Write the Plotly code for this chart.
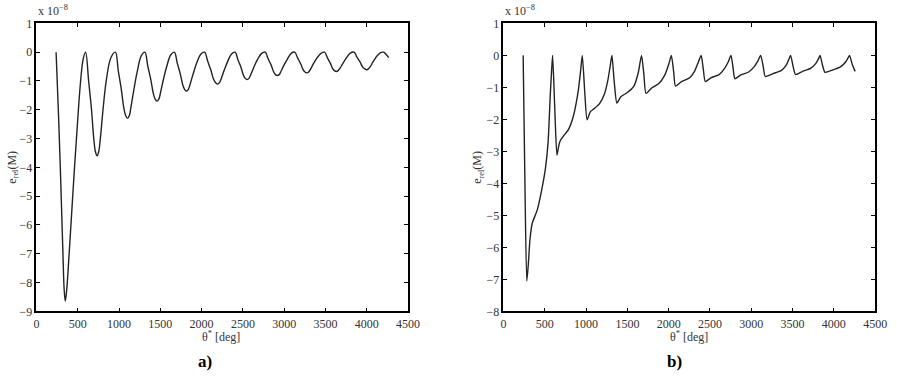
import plotly.graph_objects as go

# ---- data (theta* in deg, e_rel in units of 1e-8) ----
theta_a = [238, 265, 289, 321, 335, 349, 365, 396, 461, 508, 535, 565, 595,
           632, 667, 694, 714, 734, 754, 774, 806, 845, 900, 956,
           991, 1028, 1056, 1080, 1103, 1125, 1145, 1180, 1222, 1270, 1313,
           1348, 1385, 1413, 1437, 1460, 1482, 1502, 1537, 1579, 1627, 1670,
           1705, 1742, 1770, 1794, 1817, 1840, 1860, 1897, 1940, 1990, 2036,
           2073, 2112, 2142, 2170, 2194, 2216, 2237, 2274, 2317, 2362, 2405,
           2440, 2477, 2505, 2528, 2551, 2573, 2594, 2631, 2674, 2724, 2770,
           2805, 2842, 2870, 2894, 2917, 2939, 2960, 2997, 3040, 3085, 3127,
           3162, 3199, 3227, 3251, 3274, 3296, 3317, 3354, 3397, 3445, 3488,
           3522, 3558, 3585, 3608, 3631, 3653, 3675, 3712, 3755, 3800, 3845,
           3880, 3918, 3948, 3975, 4000, 4020, 4040, 4075, 4112, 4158, 4202,
           4235, 4265]
err_a = [0, -2.0, -4.0, -7.0, -8.2, -8.64, -8.3, -7.0, -4.0, -2.0, -1.0, -0.25, 0,
         -1.0, -2.0, -3.0, -3.45, -3.6, -3.45, -3.0, -2.0, -1.0, -0.2, 0,
         -0.65, -1.3, -1.9, -2.2, -2.3, -2.2, -1.9, -1.3, -0.65, -0.12, 0,
         -0.48, -0.95, -1.41, -1.63, -1.7, -1.63, -1.41, -0.95, -0.48, -0.09, 0,
         -0.38, -0.76, -1.12, -1.29, -1.35, -1.29, -1.12, -0.76, -0.38, -0.07, 0,
         -0.31, -0.62, -0.92, -1.06, -1.11, -1.06, -0.92, -0.62, -0.31, -0.06, 0,
         -0.27, -0.53, -0.79, -0.91, -0.95, -0.91, -0.79, -0.53, -0.27, -0.05, 0,
         -0.23, -0.45, -0.67, -0.78, -0.81, -0.78, -0.67, -0.45, -0.23, -0.04, 0,
         -0.20, -0.40, -0.60, -0.69, -0.72, -0.69, -0.60, -0.40, -0.20, -0.04, 0,
         -0.19, -0.38, -0.56, -0.64, -0.67, -0.64, -0.56, -0.38, -0.19, -0.03, 0,
         -0.17, -0.34, -0.51, -0.58, -0.61, -0.58, -0.51, -0.34, -0.17, -0.03, 0,
         -0.08, -0.19]

theta_b = [238, 258, 282, 300, 321, 349, 409, 468, 508, 540, 567, 582, 595,
           620, 647, 667, 687, 726, 786, 845, 905, 935, 954,
           985, 1012, 1052, 1100, 1163, 1222, 1262, 1294, 1313,
           1340, 1373, 1421, 1500, 1579, 1631, 1671,
           1700, 1726, 1798, 1877, 1956, 2004, 2032,
           2060, 2083, 2155, 2254, 2313, 2361, 2393,
           2420, 2444, 2512, 2611, 2679, 2722, 2754,
           2780, 2802, 2869, 2968, 3036, 3079, 3113,
           3145, 3170, 3266, 3365, 3425, 3455, 3476,
           3505, 3536, 3623, 3722, 3782, 3815, 3833,
           3862, 3893, 3980, 4079, 4147, 4175, 4190,
           4225, 4258]
err_b = [0, -3.7, -7.05, -6.55, -5.74, -5.24, -4.83, -4.13, -3.53, -2.72, -1.21, -0.5, 0,
         -1.6, -3.12, -2.85, -2.67, -2.52, -2.32, -1.91, -1.11, -0.45, 0,
         -1.2, -2.01, -1.76, -1.66, -1.51, -1.21, -0.8, -0.3, 0,
         -0.8, -1.49, -1.29, -1.16, -0.96, -0.55, 0,
         -0.6, -1.19, -1.01, -0.89, -0.6, -0.25, 0,
         -0.5, -0.96, -0.82, -0.70, -0.50, -0.2, 0,
         -0.45, -0.82, -0.70, -0.60, -0.40, -0.2, 0,
         -0.4, -0.73, -0.62, -0.52, -0.35, -0.18, 0,
         -0.35, -0.66, -0.57, -0.47, -0.3, -0.12, 0,
         -0.33, -0.60, -0.50, -0.40, -0.25, -0.1, 0,
         -0.3, -0.53, -0.46, -0.36, -0.19, -0.06, 0,
         -0.3, -0.5]

x_ticks = [0, 500, 1000, 1500, 2000, 2500, 3000, 3500, 4000, 4500]
y_ticks_a = [1, 0, -1, -2, -3, -4, -5, -6, -7, -8, -9]
y_ticks_b = [1, 0, -1, -2, -3, -4, -5, -6, -7, -8]
panel_labels = ["a)", "b)"]

W, H = 897, 380
FONT = "'Liberation Serif', 'Times New Roman', 'DejaVu Serif', serif"


def px(x):
    return x / W


def py(y):
    return 1 - y / H


fig = go.Figure()
fig.add_trace(go.Scatter(x=theta_a, y=err_a, mode="lines",
                         line=dict(color="#222", width=1.4, shape="spline", smoothing=1.0),
                         xaxis="x", yaxis="y", showlegend=False))
fig.add_trace(go.Scatter(x=theta_b, y=err_b, mode="lines",
                         line=dict(color="#222", width=1.4, shape="spline", smoothing=0.6),
                         xaxis="x2", yaxis="y2", showlegend=False))

axis_common = dict(showline=True, linecolor="black", linewidth=1.5, mirror="ticks",
                   ticks="inside", ticklen=4, tickwidth=1, tickcolor="black",
                   showgrid=False, zeroline=False,
                   tickfont=dict(family=FONT, size=12, color="#333"))

ydom = [py(316), py(17)]
fig.update_layout(
    width=W, height=H, margin=dict(l=0, r=0, t=0, b=0),
    paper_bgcolor="white", plot_bgcolor="white",
    font=dict(family=FONT, color="#333"),
    xaxis=dict(domain=[px(34), px(412)], range=[0, 4500], tickvals=x_ticks,
               anchor="y", **axis_common),
    yaxis=dict(domain=ydom, range=[-9, 1], tickvals=y_ticks_a,
               anchor="x", **axis_common),
    xaxis2=dict(domain=[px(509), px(887)], range=[0, 4500], tickvals=x_ticks,
                anchor="y2", **axis_common),
    yaxis2=dict(domain=ydom, range=[-8, 1], tickvals=y_ticks_b,
                anchor="x2", **axis_common),
)

ann = []
for x0, xc, lab_x, lab in [(34, 222, 205, panel_labels[0]), (509, 698, 683, panel_labels[1])]:
    ann.append(dict(x=px(x0), y=py(13), xref="paper", yref="paper", xanchor="left",
                    yanchor="bottom", showarrow=False,
                    text="x 10<sup>\u22128</sup>",
                    font=dict(family=FONT, size=12, color="#333")))
    ann.append(dict(x=px(xc), y=py(342), xref="paper", yref="paper", xanchor="center",
                    yanchor="middle", showarrow=False,
                    text="\u03b8<sup>*</sup> [deg]",
                    font=dict(family=FONT, size=12, color="#333")))
    ann.append(dict(x=px(lab_x), y=py(368), xref="paper", yref="paper", xanchor="center",
                    yanchor="middle", showarrow=False,
                    text="<b>%s</b>" % lab,
                    font=dict(family=FONT, size=17, color="black")))
ann.append(dict(x=px(10), y=py(166), xref="paper", yref="paper", xanchor="center",
                yanchor="middle", showarrow=False, textangle=-90,
                text="e<sub>rel</sub>(M)", font=dict(family=FONT, size=12, color="#333")))
ann.append(dict(x=px(483), y=py(166), xref="paper", yref="paper", xanchor="center",
                yanchor="middle", showarrow=False, textangle=-90,
                text="e<sub>rel</sub>(M)", font=dict(family=FONT, size=12, color="#333")))
fig.update_layout(annotations=ann)

fig.write_html("out.html")
